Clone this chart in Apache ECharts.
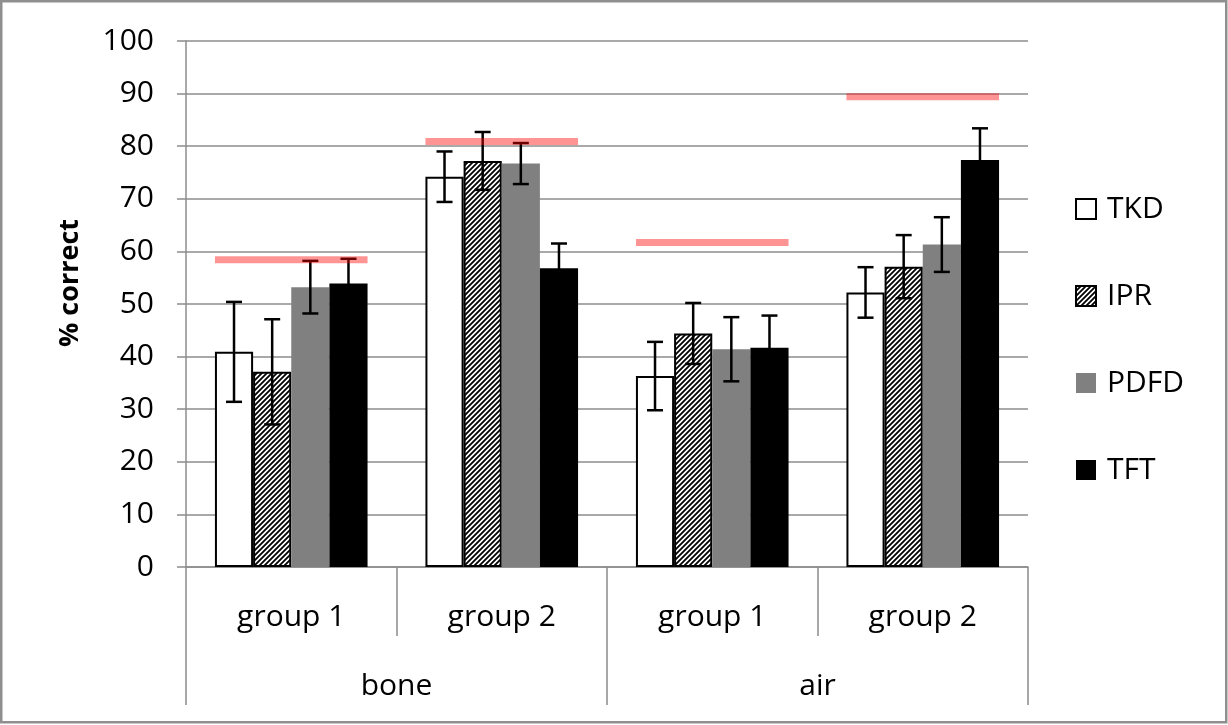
<!DOCTYPE html>
<html>
<head>
<meta charset="utf-8">
<script src="https://cdn.jsdelivr.net/npm/echarts@6/dist/echarts.min.js"></script>
<style>html,body{margin:0;padding:0;background:#fff;}#c{width:1228px;height:725px;}</style>
</head>
<body>
<div id="c"></div>
<script>
// ---- data ----
var groups = ['group 1', 'group 2', 'group 1', 'group 2'];
var media = ['bone', 'air'];
var seriesNames = ['TKD', 'IPR', 'PDFD', 'TFT'];
var TKD = [40.9, 74.2, 36.3, 52.2];
var TKD_err = [9.5, 4.8, 6.5, 4.8];
var IPR = [37.1, 77.2, 44.4, 57.1];
var IPR_err = [10.0, 5.5, 5.8, 6.0];
var PDFD = [53.2, 76.7, 41.4, 61.3];
var PDFD_err = [5.0, 3.9, 6.1, 5.2];
var TFT = [53.9, 56.8, 41.7, 77.4];
var TFT_err = [4.7, 4.7, 6.1, 6.0];
var reference = [58.4, 80.9, 61.7, 89.4];
var yTicks = [0, 10, 20, 30, 40, 50, 60, 70, 80, 90, 100];

var values = [TKD, IPR, PDFD, TFT];
var errs = [TKD_err, IPR_err, PDFD_err, TFT_err];

var FONT = 'Open Sans';
var GAP = 0.275;
var GRAY = '#8c8c8c';

// hatch pattern
function hatch() {
  var s = 5;
  var cv = document.createElement('canvas');
  cv.width = s; cv.height = s;
  var ctx = cv.getContext('2d');
  ctx.fillStyle = '#fff';
  ctx.fillRect(0, 0, s, s);
  ctx.strokeStyle = '#000';
  ctx.lineWidth = 1.8;
  ctx.beginPath();
  ctx.moveTo(-1, s + 1); ctx.lineTo(s + 1, -1);
  ctx.moveTo(-1, 1); ctx.lineTo(1, -1);
  ctx.moveTo(s - 1, s + 1); ctx.lineTo(s + 1, s - 1);
  ctx.stroke();
  return cv;
}

var styles = [
  { color: '#ffffff', borderColor: '#000', borderWidth: 2 },
  { color: { image: hatch(), repeat: 'repeat' }, borderColor: '#000', borderWidth: 2 },
  { color: '#808080', borderWidth: 0 },
  { color: '#000000', borderWidth: 0 }
];

var series = [];
seriesNames.forEach(function (n, i) {
  series.push({
    name: n, type: 'bar', barGap: '0%', barCategoryGap: (GAP * 100) + '%',
    itemStyle: styles[i], data: values[i], z: 2
  });
});

seriesNames.forEach(function (n, si) {
  series.push({
    type: 'custom', z: 5,
    renderItem: function (params, api) {
      var x = api.value(0), v = api.value(1), e = api.value(2);
      var catW = api.size([1, 0])[0];
      var bw = catW * (1 - GAP) / 4;
      var cx = api.coord([x, v])[0] + (si - 1.5) * bw;
      var top = api.coord([x, v + e])[1];
      var bot = api.coord([x, v - e])[1];
      var st = { stroke: '#000', lineWidth: 2.5 };
      var cap = 8;
      return { type: 'group', children: [
        { type: 'line', shape: { x1: cx, y1: top, x2: cx, y2: bot }, style: st },
        { type: 'line', shape: { x1: cx - cap, y1: top, x2: cx + cap, y2: top }, style: st },
        { type: 'line', shape: { x1: cx - cap, y1: bot, x2: cx + cap, y2: bot }, style: st }
      ] };
    },
    data: values[si].map(function (v, i) { return [i, v, errs[si][i]]; })
  });
});

series.push({
  type: 'custom', z: 8,
  renderItem: function (params, api) {
    var x = api.value(0), v = api.value(1);
    var catW = api.size([1, 0])[0];
    var p = api.coord([x, v]);
    var half = catW * (1 - GAP) / 2;
    return { type: 'line', shape: { x1: p[0] - half, y1: p[1], x2: p[0] + half, y2: p[1] },
      style: { stroke: 'rgba(255,0,0,0.42)', lineWidth: 7 } };
  },
  data: reference.map(function (v, i) { return [i, v]; })
});

var chart = echarts.init(document.getElementById('c'), null, { renderer: 'canvas' });
chart.setOption({
  animation: false,
  backgroundColor: '#fff',
  textStyle: { fontFamily: FONT },
  grid: { left: 186, right: 200, top: 41, bottom: 158 },
  legend: {
    data: seriesNames, orient: 'vertical', left: 1070, top: 189,
    itemWidth: 20, itemHeight: 20, itemGap: 57, icon: 'rect',
    textStyle: { fontFamily: FONT, fontSize: 30, color: '#000', padding: [0, 0, 0, 6] }
  },
  xAxis: [
    {
      type: 'category', data: groups, position: 'bottom',
      axisLine: { show: true, lineStyle: { color: GRAY, width: 1.5 } },
      axisTick: { show: true, length: 69, interval: 0, lineStyle: { color: GRAY, width: 1.5 } },
      axisLabel: { fontFamily: FONT, fontSize: 30, color: '#000', margin: 35, interval: 0 },
      splitLine: { show: false }
    },
    {
      type: 'category', data: media, position: 'bottom', offset: 69,
      axisLine: { show: false },
      axisTick: { show: true, length: 69, interval: 0, lineStyle: { color: GRAY, width: 1.5 } },
      axisLabel: { fontFamily: FONT, fontSize: 30, color: '#000', margin: 35, interval: 0 },
      splitLine: { show: false }
    }
  ],
  yAxis: {
    type: 'value', min: yTicks[0], max: yTicks[yTicks.length - 1], interval: 10,
    axisLine: { show: true, lineStyle: { color: GRAY, width: 1.5 } },
    axisTick: { show: true, length: 9, lineStyle: { color: GRAY, width: 1.5 } },
    axisLabel: { fontFamily: FONT, fontSize: 30, color: '#000', margin: 32 },
    splitLine: { show: true, lineStyle: { color: GRAY, width: 1.5 } }
  },
  graphic: [
    { type: 'rect', shape: { x: 1.25, y: 1.25, width: 1225, height: 721 },
      style: { fill: 'none', stroke: '#8f8f8f', lineWidth: 2.5 }, silent: true },
    { type: 'text', x: 70, y: 283, rotation: Math.PI / 2,
      style: { text: '% correct', font: 'bold 27px "Open Sans"', fill: '#000', align: 'center', verticalAlign: 'middle' } }
  ],
  series: series
});
</script>
</body>
</html>
